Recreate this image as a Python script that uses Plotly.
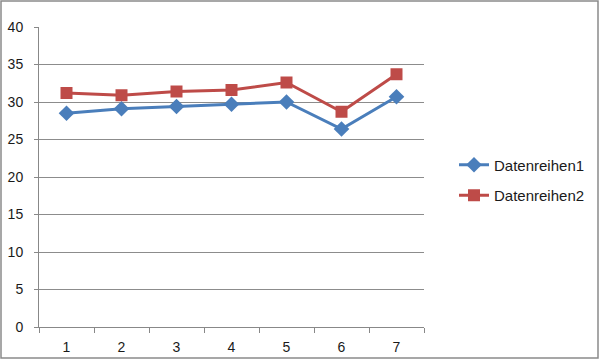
import plotly.graph_objects as go

categories = ["1", "2", "3", "4", "5", "6", "7"]
series1 = [28.5, 29.1, 29.4, 29.7, 30.0, 26.4, 30.7]
series2 = [31.2, 30.9, 31.4, 31.6, 32.6, 28.7, 33.7]
y_ticks = [0, 5, 10, 15, 20, 25, 30, 35, 40]

fig = go.Figure()
fig.add_trace(go.Scatter(
    x=categories, y=series1, name="Datenreihen1", mode="lines+markers",
    line=dict(color="#4A7EBB", width=3),
    marker=dict(symbol="diamond", size=12, color="#4A7EBB"),
    legendgroup="a"))
fig.add_trace(go.Scatter(
    x=categories, y=series2, name="Datenreihen2", mode="lines+markers",
    line=dict(color="#BE4B48", width=3),
    marker=dict(symbol="square", size=12, color="#BE4B48"),
    legendgroup="b"))

L, T, W, H = 39, 27, 385, 300
def px(x):
    return (x - L) / W
def py(y):
    return (T + H - y) / H

fig.update_layout(
    width=600, height=360,
    margin=dict(l=L, r=600 - L - W, t=T, b=360 - T - H, autoexpand=False),
    paper_bgcolor="white", plot_bgcolor="white",
    font=dict(family="Liberation Sans, Arial, sans-serif", size=14, color="#1a1a1a"),
    showlegend=True,
    legend=dict(x=px(454), xanchor="left", y=0.49, yanchor="middle",
                font=dict(size=15), traceorder="grouped", tracegroupgap=8,
                itemwidth=30, bgcolor="rgba(0,0,0,0)"),
    xaxis=dict(type="category", tickson="boundaries", ticks="outside", ticklen=5,
               tickcolor="#888", showline=True, linecolor="#888", linewidth=1,
               showgrid=False, zeroline=False, fixedrange=True,
               ticklabelstandoff=7, range=[-0.5, 6.5]),
    yaxis=dict(range=[0, 40], tickvals=y_ticks, ticks="outside", ticklen=4,
               tickcolor="#888", showline=True, linecolor="#888", linewidth=1,
               gridcolor="#8c8c8c", gridwidth=1, zeroline=False, fixedrange=True,
               ticklabelstandoff=8),
    shapes=[dict(type="rect", xref="paper", yref="paper",
                 x0=px(1), x1=px(598), y0=py(358), y1=py(1),
                 line=dict(color="#8a8a8a", width=1.5), layer="below")],
)

fig.write_html("out.html", config={"displayModeBar": False},
               post_script="document.body.style.margin='0';document.body.style.overflow='hidden';")
